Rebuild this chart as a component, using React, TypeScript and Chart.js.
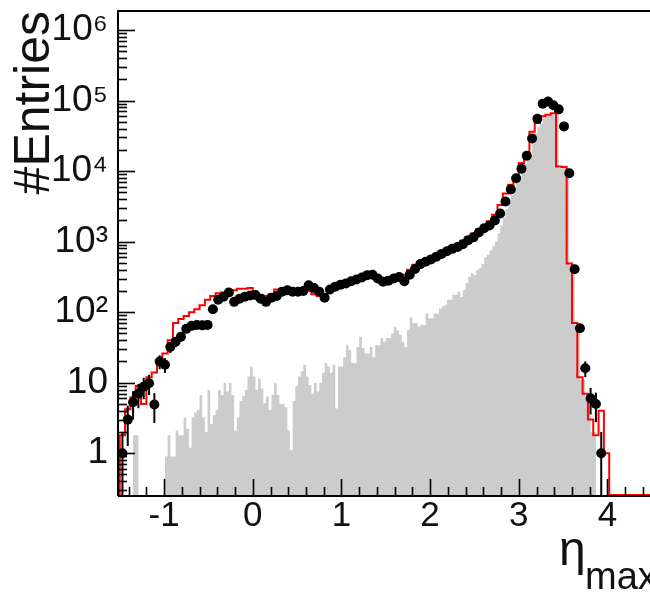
import React, { useEffect, useRef } from 'react';
import { Chart, registerables } from 'chart.js';

Chart.register(...registerables);

const FONT = '"Liberation Sans", Arial, Helvetica, sans-serif';

// Axis ranges
const X_MIN = -1.52;
const X_MAX = 4.48;
const Y_MIN = 0.256;
const Y_MAX = 1.86e6;

// Binning
const BIN_LOW = -1.5;
const BIN_WIDTH = 0.06;
const FINE_WIDTH = 0.03;
const FINE_FIRST_BIN = 5;

// Tick labels
const xTicks = [-1, 0, 1, 2, 3, 4];
const xTickLabels = ['-1', '0', '1', '2', '3', '4'];
const yTicks = [1, 10, 100, 1e3, 1e4, 1e5, 1e6];
const yTickLabels = ['1', '10', '10²', '10³', '10⁴', '10⁵', '10⁶'];

// Data points (black markers), one per 0.06 bin starting at -1.5
const dataCounts = [
  1.0, 3, 5.3, 7, 8.8, 9.8, 4.9, 20, 18, 32,
  38, 45, 58, 64, 66, 65, 66, 110, 150, 165,
  190, 140, 155, 165, 172, 175, 155, 140, 160, 170,
  195, 205, 195, 195, 200, 240, 220, 195, 160, 210,
  230, 245, 255, 275, 290, 310, 335, 340, 300, 270,
  280, 300, 315, 275, 340, 410, 480, 520, 560, 610,
  670, 730, 790, 840, 920, 1050, 1150, 1350, 1550, 1700,
  2000, 2500, 3700, 5500, 7900, 10800, 16500, 29000, 55000, 90000,
  97000, 86000, 75000, 43000, 9300, 405, 59, 16, 6, 5,
  1,
];

// Red step histogram, 0.06 bins starting at -1.5
const mcTotal = [
  1.2, 1.8, 4.2, 6.2, 9, 5, 12, 14, 18, 26,
  40, 70, 80, 88, 100, 110, 125, 150, 170, 185,
  190, 195, 205, 215, 215, 220, 180, 175, 170, 180,
  210, 215, 200, 205, 195, 205, 200, 180, 170, 175,
  215, 245, 260, 280, 290, 305, 320, 330, 315, 300,
  300, 310, 320, 300, 340, 400, 470, 520, 560, 610,
  660, 720, 790, 840, 920, 1030, 1150, 1300, 1500, 1700,
  1950, 2400, 3300, 4800, 6400, 7800, 13000, 16800, 36000, 48000,
  60000, 63000, 66000, 11600, 11400, 490, 70, 12, 7, 3,
  1.8, 4, 1, 0, 0, 0, 0, 0, 0, 0,
];

// Grey filled histogram, 0.03 bins starting at bin 5 (x = -1.35)
const mcFine = [
  1.8, 1.8, 1.8, 0, 0, 0, 0, 0, 0, 0, 0, 0, 0,
  0.9, 1.8, 0.9, 0.9, 2.1, 1.8, 1.8, 3.2, 2.2, 1.2,
  3.2, 3.8, 4.1, 6.7, 3.2, 2.0, 7.9, 2.6, 3.5, 4.1,
  7.9, 6.7, 9.9, 7.5, 9.9, 6.7, 2.1, 3.2, 5.5, 6.5,
  7.9, 12.2, 16.9, 12.2, 7.9, 11.5, 8.3, 5.1, 6.4, 4.1,
  6.7, 9.9, 6.7, 5, 5, 4.5, 2.1, 1.1, 5.5, 9,
  12.2, 14.5, 18, 12.2, 9.3, 7, 9.9, 7.5, 10, 13.8,
  19, 17, 13.8, 18, 4.3, 17, 17, 23, 34, 29,
  19, 19, 32, 45, 31, 26, 26, 32, 23, 34,
  34, 43, 38, 43, 43, 50, 62, 55, 48, 38,
  32, 56, 85, 70, 70, 62, 66, 66, 96, 82,
  82, 96, 96, 113, 120, 127, 150, 150, 176, 176,
  195, 166, 207, 260, 318, 356, 337, 400, 420, 480,
  600, 650, 750, 850, 1000, 1300, 1700, 2200, 2900, 3600,
  4600, 5600, 6800, 7500, 10000, 12500, 15000, 16500, 25000, 34000,
  42000, 47000, 55000, 59000, 61000, 62000, 63000, 64000, 11000, 11200,
  11000, 10800, 470, 480, 65, 68, 11, 11, 6, 6,
  2,
];

type Pt = { x: number; y: number };

function buildStep(values: number[], low: number, width: number, leadFromFloor: boolean): Pt[] {
  const pts: Pt[] = [];
  if (leadFromFloor) pts.push({ x: low, y: Y_MIN });
  values.forEach((v, i) => pts.push({ x: low + i * width, y: v > 0 ? v : Y_MIN }));
  const last = values[values.length - 1];
  pts.push({ x: low + values.length * width, y: last > 0 ? last : Y_MIN });
  return pts;
}

const rootStylePlugin = {
  id: 'rootStyle',
  afterDatasetsDraw(chart: any) {
    const { ctx, chartArea } = chart;
    const { left, right, top, bottom } = chartArea;
    const xs = chart.scales.x;
    const ys = chart.scales.y;
    ctx.save();
    ctx.strokeStyle = '#000';
    ctx.lineWidth = 2;
    // error bars
    dataCounts.forEach((v, i) => {
      const x = xs.getPixelForValue(BIN_LOW + (i + 0.5) * BIN_WIDTH);
      const e = Math.sqrt(v);
      const yHi = ys.getPixelForValue(v + e);
      const lo = v - e;
      const yLo = lo > Y_MIN ? ys.getPixelForValue(lo) : bottom;
      ctx.beginPath();
      ctx.moveTo(x, yHi);
      ctx.lineTo(x, yLo);
      ctx.stroke();
    });
    // frame
    ctx.beginPath();
    ctx.moveTo(left, bottom + 1);
    ctx.lineTo(left, top);
    ctx.lineTo(right + 2, top);
    ctx.stroke();
    ctx.beginPath();
    ctx.moveTo(left, bottom + 1);
    ctx.lineTo(right + 2, bottom + 1);
    ctx.stroke();
    // x ticks (inward)
    ctx.lineWidth = 1.6;
    for (let k = -8; k <= 23; k++) {
      const v = k * 0.2;
      if (v <= xs.min || v >= xs.max) continue;
      const px = Math.round(xs.getPixelForValue(v)) + 0.5;
      const len = k % 5 === 0 ? 16 : 8;
      ctx.beginPath();
      ctx.moveTo(px, bottom);
      ctx.lineTo(px, bottom - len);
      ctx.stroke();
    }
    // y ticks (inward)
    for (let d = -1; d <= 6; d++) {
      for (let m = 1; m <= 9; m++) {
        const v = m * Math.pow(10, d);
        if (v <= ys.min || v >= ys.max) continue;
        const py = Math.round(ys.getPixelForValue(v)) + 0.5;
        const len = m === 1 ? 17 : 9;
        ctx.beginPath();
        ctx.moveTo(left, py);
        ctx.lineTo(left + len, py);
        ctx.stroke();
      }
    }
    // x axis title: eta_max
    ctx.fillStyle = '#111';
    ctx.textAlign = 'left';
    ctx.textBaseline = 'alphabetic';
    ctx.font = `48px ${FONT}`;
    ctx.fillText('η', 559, 565);
    ctx.font = `38px ${FONT}`;
    ctx.fillText('max', 585, 589);
    ctx.restore();
  },
};

export default function App() {
  const canvasRef = useRef<HTMLCanvasElement | null>(null);

  useEffect(() => {
    document.body.style.margin = '0';
    const canvas = canvasRef.current;
    if (!canvas) return;

    const points = dataCounts.map((v, i) => ({ x: BIN_LOW + (i + 0.5) * BIN_WIDTH, y: v }));
    const redStep = buildStep(mcTotal, BIN_LOW, BIN_WIDTH, true);
    const greyStep = buildStep(mcFine, BIN_LOW + FINE_FIRST_BIN * FINE_WIDTH, FINE_WIDTH, false);

    const chart = new Chart(canvas, {
      type: 'line',
      data: {
        datasets: [
          {
            label: 'Data',
            data: points,
            showLine: false,
            pointRadius: 5,
            pointBackgroundColor: '#000',
            pointBorderColor: '#000',
            pointBorderWidth: 0,
            order: 0,
          },
          {
            label: 'MC total',
            data: redStep,
            stepped: 'after',
            borderColor: '#ff0000',
            borderWidth: 2,
            pointRadius: 0,
            fill: false,
            order: 1,
          },
          {
            label: 'MC',
            data: greyStep,
            stepped: 'after',
            borderColor: 'rgba(0,0,0,0)',
            borderWidth: 0,
            backgroundColor: '#cccccc',
            fill: 'start',
            pointRadius: 0,
            order: 2,
          },
        ],
      } as any,
      options: {
        responsive: false,
        animation: false,
        events: [],
        layout: { padding: { top: 11, left: 0, right: 0, bottom: 0 }, autoPadding: false },
        plugins: {
          legend: { display: false },
          tooltip: { enabled: false },
          title: { display: false },
        },
        scales: {
          x: {
            type: 'linear',
            min: X_MIN,
            max: X_MAX,
            grid: { display: false, drawTicks: false },
            border: { display: false },
            afterBuildTicks: (ax: any) => {
              ax.ticks = xTicks.map((v) => ({ value: v }));
            },
            afterFit: (ax: any) => {
              ax.height = 100;
              ax.paddingLeft = 0;
              ax.paddingRight = 0;
            },
            ticks: {
              autoSkip: false,
              maxRotation: 0,
              minRotation: 0,
              padding: 0,
              color: '#111',
              font: { family: FONT, size: 35 },
              callback: (_v: any, i: number) => xTickLabels[i],
            },
          },
          y: {
            type: 'logarithmic',
            min: Y_MIN,
            max: Y_MAX,
            grid: { display: false, drawTicks: false },
            border: { display: false },
            afterBuildTicks: (ax: any) => {
              ax.ticks = yTicks.map((v) => ({ value: v }));
            },
            afterFit: (ax: any) => {
              ax.width = 118;
              ax.paddingTop = 0;
              ax.paddingBottom = 0;
            },
            ticks: {
              autoSkip: false,
              padding: 10,
              color: '#111',
              font: { family: FONT, size: 37 },
              callback: (_v: any, i: number) => yTickLabels[i],
            },
            title: {
              display: true,
              text: '#Entries',
              align: 'end',
              color: '#111',
              font: { family: FONT, size: 50 },
              padding: { top: 5, bottom: 0 },
            },
          },
        },
      } as any,
      plugins: [rootStylePlugin],
    });

    return () => {
      chart.destroy();
    };
  }, []);

  return (
    <div style={{ width: 650, height: 595 }}>
      <canvas ref={canvasRef} width={650} height={595} style={{ display: 'block' }} />
    </div>
  );
}
